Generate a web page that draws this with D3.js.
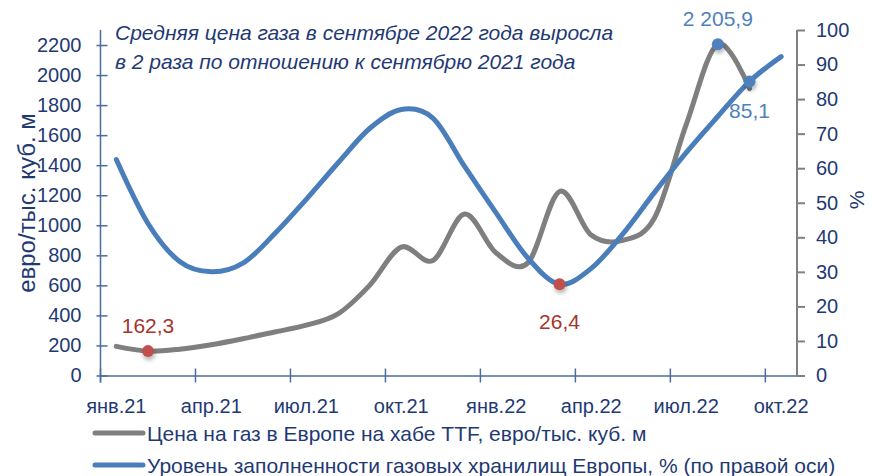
<!DOCTYPE html>
<html>
<head>
<meta charset="utf-8">
<script src="https://cdn.jsdelivr.net/npm/d3@7"></script>
<style>
  html, body { margin: 0; padding: 0; background: #fff; }
  svg text { font-family: "Liberation Sans", Arial, sans-serif; }
</style>
</head>
<body>
<div id="chart"></div>
<script>
// months (one category per month)
const months = ['янв.21','фев.21','мар.21','апр.21','май.21','июн.21','июл.21','авг.21','сен.21','окт.21','ноя.21','дек.21',
                'янв.22','фев.22','мар.22','апр.22','май.22','июн.22','июл.22','авг.22','сен.22','окт.22'];
const tickMonths = ['янв.21','апр.21','июл.21','окт.21','янв.22','апр.22','июл.22','окт.22'];

// TTF price, euro per thousand cubic metres (no value for Oct 22)
const price = [194, 162.3, 175, 205, 245, 290, 335, 410, 600, 855, 766, 1075,
               815, 750, 1225, 935, 900, 1050, 1670, 2205.9, 1910, null];
// storage level, %
const storage = [62.5, 44, 33, 30, 32.5, 41, 51, 61.5, 71.5, 77, 74.5, 60.5,
                 47, 34, 26.4, 31, 41, 53, 64.5, 75, 85.1, 92.3];

const leftTicks = [0,200,400,600,800,1000,1200,1400,1600,1800,2000,2200];
const rightTicks = [0,10,20,30,40,50,60,70,80,90,100];

const title = ['Средняя цена газа в сентябре 2022 года выросла',
               'в 2 раза по отношению к сентябрю 2021 года'];
const legendItems = [
  {name: 'Цена на газ в Европе на хабе TTF, евро/тыс. куб. м', color: '#7f7f7f'},
  {name: 'Уровень заполненности газовых хранилищ Европы, % (по правой оси)', color: '#4a7ebb'}
];
// highlighted points: series, month index, label, colour, label above/below
const marks = [
  {s: 'price', i: 1, text: '162,3', dot: '#c0504d', lab: '#a5352f', dy: -25},
  {s: 'storage', i: 14, text: '26,4', dot: '#c0504d', lab: '#a5352f', dy: 37},
  {s: 'price', i: 19, text: '2 205,9', dot: '#4f81bd', lab: '#4f81bd', dy: -25},
  {s: 'storage', i: 20, text: '85,1', dot: '#4f81bd', lab: '#4f81bd', dy: 29}
];

const W = 875, H = 476;
const navy = '#1f3a73', axisBlue = '#4a6c9e';
const plotL = 100.5, plotR = 797, plotT = 30, plotB = 375.5;

const svg = d3.select('#chart').append('svg')
  .attr('width', W).attr('height', H);

const defs = svg.append('defs');
defs.append('filter').attr('id', 'shadow')
  .attr('x', '-100%').attr('y', '-100%').attr('width', '300%').attr('height', '300%')
  .append('feDropShadow')
  .attr('dx', 1).attr('dy', 3).attr('stdDeviation', 2)
  .attr('flood-color', '#000').attr('flood-opacity', 0.3);

const x = d3.scaleBand().domain(months).range([plotL, plotR]).padding(0);
const bw = x.bandwidth();
const cx = m => x(m) + bw / 2;
const yL = d3.scaleLinear().domain([0, 2300]).range([plotB, plotT]);
const yR = d3.scaleLinear().domain([0, 100]).range([plotB, plotT]);

// x axis
const xAxis = svg.append('g')
  .attr('transform', `translate(0,${plotB})`)
  .call(d3.axisBottom(x).tickValues(tickMonths).tickSize(0));
xAxis.select('.domain').attr('stroke', axisBlue).attr('stroke-width', 1.5);
xAxis.selectAll('.tick line')
  .attr('x1', -bw / 2).attr('x2', -bw / 2)
  .attr('y1', -7).attr('y2', 7)
  .attr('stroke', axisBlue).attr('stroke-width', 1.5);
xAxis.selectAll('.tick text')
  .attr('y', 37).attr('dy', null)
  .attr('fill', navy).style('font-size', '20px');

// left axis
const lAxis = svg.append('g')
  .attr('transform', `translate(${plotL},0)`)
  .call(d3.axisLeft(yL).tickValues(leftTicks).tickFormat(d3.format('d'))
    .tickSize(0).tickPadding(19));
lAxis.select('.domain').remove();
lAxis.append('line')
  .attr('y1', plotT).attr('y2', plotB + 7)
  .attr('stroke', axisBlue).attr('stroke-width', 1.5);
lAxis.selectAll('.tick line')
  .attr('x1', -4).attr('x2', 7)
  .attr('stroke', axisBlue).attr('stroke-width', 1.5);
lAxis.selectAll('.tick text')
  .attr('fill', navy).style('font-size', '20px');

// right axis
const rAxis = svg.append('g')
  .attr('transform', `translate(${plotR},0)`)
  .call(d3.axisRight(yR).tickValues(rightTicks).tickSize(0).tickPadding(19));
rAxis.select('.domain').remove();
rAxis.append('line')
  .attr('y1', plotT).attr('y2', plotB)
  .attr('stroke', '#808080').attr('stroke-width', 2);
rAxis.selectAll('.tick line')
  .attr('x1', 0).attr('x2', 8)
  .attr('stroke', '#808080').attr('stroke-width', 2);
rAxis.selectAll('.tick text')
  .attr('fill', navy).style('font-size', '20px');

// axis titles
svg.append('text')
  .attr('transform', `translate(35,203) rotate(-90)`)
  .attr('text-anchor', 'middle')
  .attr('fill', navy).style('font-size', '24px')
  .text('евро/тыс. куб. м');
svg.append('text')
  .attr('transform', `translate(864,200) rotate(-90)`)
  .attr('text-anchor', 'middle')
  .attr('fill', navy).style('font-size', '21px')
  .text('%');

// lines
const smooth = d3.curveCardinal.tension(0);
const priceLine = d3.line()
  .defined(d => d[1] != null)
  .x(d => cx(d[0])).y(d => yL(d[1])).curve(smooth);
const storageLine = d3.line()
  .x(d => cx(d[0])).y(d => yR(d[1])).curve(smooth);

svg.append('path')
  .datum(months.map((m, i) => [m, price[i]]))
  .attr('d', priceLine)
  .attr('fill', 'none').attr('stroke', '#7f7f7f')
  .attr('stroke-width', 5).attr('stroke-linecap', 'round').attr('stroke-linejoin', 'round');

svg.append('path')
  .datum(months.map((m, i) => [m, storage[i]]))
  .attr('d', storageLine)
  .attr('fill', 'none').attr('stroke', '#4a7ebb')
  .attr('stroke-width', 5).attr('stroke-linecap', 'round').attr('stroke-linejoin', 'round');

// highlighted points and labels
marks.forEach(mk => {
  const m = months[mk.i];
  const py = mk.s === 'price' ? yL(price[mk.i]) : yR(storage[mk.i]);
  svg.append('circle')
    .attr('cx', cx(m)).attr('cy', py).attr('r', 6)
    .attr('fill', mk.dot).attr('filter', 'url(#shadow)');
  svg.append('text')
    .attr('x', cx(m)).attr('y', py + mk.dy)
    .attr('dy', '0.35em')
    .attr('text-anchor', 'middle')
    .attr('fill', mk.lab).style('font-size', '21px')
    .text(mk.text);
});

// title
svg.append('g').selectAll('text')
  .data(title).join('text')
  .attr('x', 115).attr('y', (d, i) => 40 + i * 29)
  .attr('fill', navy).style('font-size', '21px').style('font-style', 'italic')
  .text(d => d);

// legend
const leg = svg.append('g').selectAll('g')
  .data(legendItems).join('g')
  .attr('transform', (d, i) => `translate(95,${433 + i * 32})`);
leg.append('line')
  .attr('x1', 0).attr('x2', 48)
  .attr('stroke', d => d.color).attr('stroke-width', 5).attr('stroke-linecap', 'round');
leg.append('text')
  .attr('x', 52).attr('dy', '0.36em')
  .attr('fill', navy).style('font-size', '21px')
  .text(d => d.name);
</script>
</body>
</html>
